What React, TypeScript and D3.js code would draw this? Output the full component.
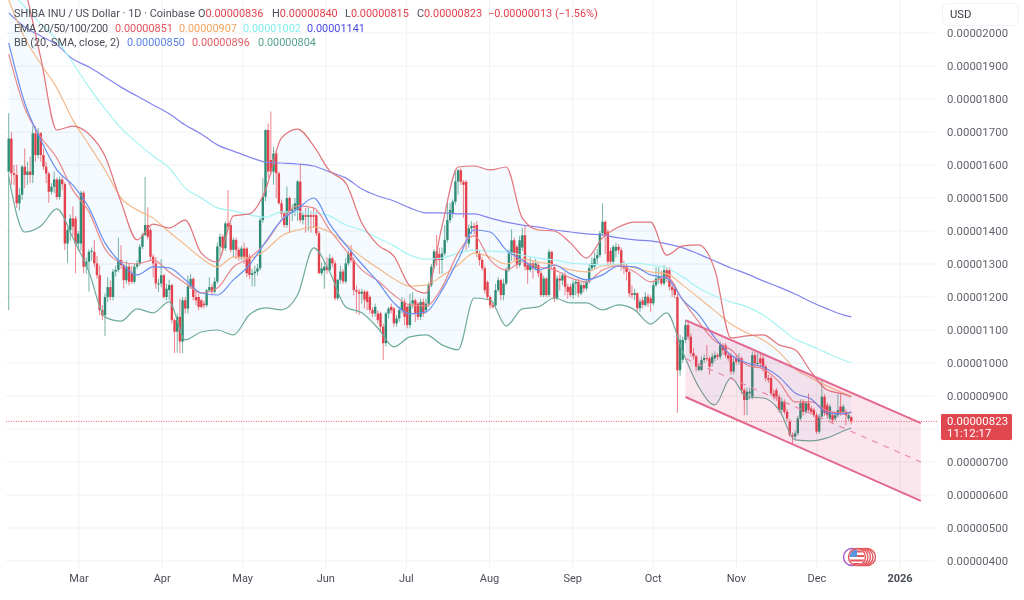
import * as d3 from "d3";

// Prices are in units of 0.00000001 USD
const opens = [
  1580,1680,1575,1570,1484,1510,1595,1570,1580,1570,1696,1630,1696,1630,1595,1574,1519,1534,1556,1503,
  1556,1542,1362,1403,1438,1438,1362,1362,1516,1292,1307,1337,1337,1302,1266,1160,1145,1200,1230,1200,
  1277,1282,1312,1297,1251,1292,1272,1246,1292,1302,1352,1388,1418,1403,1322,1302,1241,1241,1266,1200,
  1221,1236,1130,1095,1140,1065,1190,1165,1232,1255,1200,1200,1190,1180,1175,1220,1230,1216,1247,1353,
  1383,1348,1423,1418,1343,1373,1343,1322,1347,1347,1322,1267,1272,1277,1287,1433,1504,1706,1615,1580,
  1635,1575,1484,1453,1418,1500,1455,1465,1464,1550,1433,1448,1443,1448,1448,1448,1393,1272,1280,1292,
  1282,1317,1302,1196,1252,1277,1247,1302,1337,1312,1221,1216,1210,1216,1216,1200,1161,1150,1150,1150,
  1110,1060,1150,1170,1165,1120,1135,1160,1186,1170,1115,1180,1190,1180,1140,1185,1160,1180,1236,1292,
  1338,1330,1312,1332,1373,1433,1454,1489,1550,1584,1549,1549,1362,1408,1415,1418,1332,1312,1287,1245,
  1200,1175,1175,1221,1251,1206,1241,1282,1332,1372,1352,1297,1350,1387,1297,1282,1302,1287,1297,1272,
  1206,1256,1206,1337,1290,1196,1256,1250,1266,1231,1231,1206,1241,1246,1211,1236,1226,1246,1287,1292,
  1317,1327,1393,1428,1398,1340,1307,1340,1352,1342,1297,1292,1276,1211,1206,1211,1166,1190,1176,1201,
  1196,1181,1236,1256,1256,1241,1281,1281,1231,1226,1200,978,1010,1070,1115,1080,1030,1020,979,979,
  1009,1015,1014,999,1014,1024,1019,1054,1054,1024,1024,974,1014,1004,1014,918,888,908,898,1024,
  999,1014,1014,989,954,954,908,918,898,858,883,852,822,782,777,787,832,882,852,878,
  862,858,842,792,838,898,872,832,842,832,842,868,852,852,832,836,
];
const closes = [
  1680,1575,1570,1484,1510,1595,1570,1580,1570,1696,1630,1696,1630,1595,1574,1519,1534,1556,1503,1556,
  1542,1362,1403,1438,1413,1362,1392,1516,1292,1307,1337,1340,1302,1266,1160,1145,1200,1230,1200,1277,
  1282,1312,1297,1251,1292,1246,1246,1292,1302,1352,1388,1418,1383,1322,1302,1241,1241,1266,1200,1225,
  1236,1130,1095,1140,1065,1190,1165,1232,1255,1200,1190,1170,1170,1175,1220,1230,1216,1247,1353,1383,
  1348,1423,1413,1343,1373,1343,1322,1347,1322,1272,1267,1272,1277,1287,1433,1504,1706,1580,1580,1635,
  1575,1484,1453,1418,1500,1455,1465,1484,1550,1433,1448,1443,1448,1443,1443,1393,1272,1287,1292,1282,
  1317,1302,1196,1252,1277,1247,1302,1332,1312,1221,1216,1210,1216,1192,1185,1161,1150,1170,1130,1110,
  1060,1150,1165,1160,1120,1135,1160,1186,1140,1115,1180,1190,1150,1140,1185,1150,1180,1236,1292,1338,
  1312,1312,1332,1373,1433,1464,1489,1550,1584,1549,1540,1382,1408,1415,1410,1332,1312,1287,1221,1200,
  1175,1170,1221,1251,1206,1241,1282,1332,1372,1327,1297,1372,1387,1292,1282,1302,1287,1302,1272,1206,
  1256,1206,1337,1297,1196,1256,1250,1266,1231,1216,1206,1241,1246,1211,1236,1226,1246,1287,1302,1317,
  1327,1393,1428,1388,1307,1307,1352,1352,1342,1292,1287,1276,1211,1206,1212,1166,1186,1176,1201,1181,
  1181,1236,1256,1262,1241,1281,1256,1231,1221,1206,978,1070,1070,1115,1080,1030,1020,989,990,1009,
  1015,1014,989,1019,1024,1019,1054,1039,1024,1014,974,1004,1004,1015,918,888,913,913,1024,999,
  1000,999,989,954,949,908,898,898,858,883,852,832,782,777,787,832,878,852,878,858,
  852,842,792,838,898,848,842,868,827,842,857,852,868,842,842,823,
];
const highs = [
  1757,1700,1600,1600,1530,1600,1650,1610,1625,1718,1718,1712,1700,1650,1610,1580,1545,1580,1562,1565,
  1565,1548,1410,1450,1475,1445,1400,1522,1522,1320,1345,1350,1373,1325,1295,1175,1210,1260,1250,1285,
  1295,1380,1357,1300,1310,1300,1295,1300,1312,1360,1395,1564,1472,1410,1330,1320,1255,1315,1270,1240,
  1252,1240,1135,1150,1195,1200,1200,1265,1270,1260,1215,1210,1195,1190,1225,1260,1240,1260,1365,1393,
  1390,1430,1524,1425,1380,1380,1350,1355,1365,1352,1330,1285,1295,1300,1440,1560,1708,1726,1762,1655,
  1640,1580,1495,1460,1535,1505,1480,1500,1555,1605,1455,1470,1470,1460,1470,1460,1400,1305,1310,1320,
  1330,1322,1310,1255,1295,1285,1318,1340,1358,1320,1235,1225,1225,1222,1220,1205,1170,1180,1160,1155,
  1120,1155,1170,1180,1170,1145,1170,1200,1195,1175,1210,1215,1195,1185,1195,1195,1195,1245,1300,1345,
  1388,1348,1350,1418,1485,1485,1495,1580,1588,1590,1555,1555,1420,1430,1425,1430,1340,1320,1295,1250,
  1205,1185,1240,1260,1255,1255,1290,1345,1405,1380,1358,1385,1410,1415,1305,1320,1310,1315,1305,1280,
  1265,1260,1345,1340,1300,1265,1270,1275,1275,1240,1240,1250,1255,1255,1245,1245,1255,1300,1320,1335,
  1345,1400,1484,1432,1405,1350,1358,1365,1360,1350,1310,1300,1280,1235,1225,1215,1195,1200,1215,1210,
  1205,1245,1290,1290,1280,1297,1290,1290,1245,1240,1210,1085,1080,1130,1128,1090,1045,1025,1000,1020,
  1025,1055,1020,1030,1035,1030,1065,1060,1060,1030,1030,1015,1025,1030,1020,925,925,925,1035,1035,
  1030,1030,1025,995,965,960,920,925,905,895,890,860,830,790,795,840,890,890,885,908,
  870,865,850,845,948,905,880,875,850,850,905,905,875,860,850,840,
];
const lows = [
  1160,1540,1540,1470,1462,1495,1530,1540,1545,1545,1610,1620,1610,1585,1545,1485,1510,1515,1495,1495,
  1525,1342,1303,1370,1385,1272,1340,1340,1272,1270,1216,1310,1290,1255,1145,1130,1082,1185,1190,1190,
  1262,1275,1285,1226,1240,1235,1240,1240,1285,1295,1345,1385,1375,1310,1260,1225,1215,1230,1195,1190,
  1190,1120,1030,1032,1030,1030,1150,1150,1225,1190,1175,1160,1165,1165,1170,1215,1205,1210,1240,1325,
  1335,1340,1405,1335,1320,1315,1310,1312,1300,1260,1255,1232,1232,1265,1280,1425,1490,1560,1570,1540,
  1500,1480,1440,1410,1410,1395,1430,1445,1430,1425,1420,1395,1400,1395,1410,1385,1270,1265,1225,1270,
  1275,1290,1190,1190,1240,1240,1240,1295,1305,1205,1150,1145,1180,1165,1160,1150,1140,1140,1120,1095,
  1009,1050,1135,1150,1110,1110,1125,1150,1115,1105,1105,1165,1125,1130,1130,1140,1150,1170,1230,1285,
  1295,1270,1270,1325,1365,1425,1440,1480,1510,1540,1440,1340,1350,1390,1390,1320,1295,1280,1210,1190,
  1165,1165,1165,1215,1190,1190,1235,1275,1310,1310,1285,1290,1340,1280,1240,1275,1255,1280,1260,1200,
  1200,1200,1200,1285,1185,1190,1220,1235,1205,1195,1200,1195,1205,1200,1205,1215,1220,1240,1280,1285,
  1300,1320,1385,1330,1295,1300,1300,1320,1330,1280,1270,1250,1200,1195,1190,1155,1155,1165,1170,1170,
  1155,1175,1230,1240,1235,1235,1245,1220,1200,1195,849,960,1000,1060,1070,1020,1010,975,975,975,
  1000,1005,964,990,1005,1010,1010,1025,1015,1005,965,965,995,995,905,842,842,890,890,985,
  990,985,975,945,940,900,890,885,850,850,845,825,775,756,770,780,825,840,845,850,
  845,835,785,785,830,840,830,825,815,825,835,840,845,812,825,815,
];

const lineDays = [...d3.range(0, 316, 6), 315];
const bbUpper = [
  2282,2136,1924,1706,1718,1694,1627,1488,1373,1421,1409,1433,1333,1306,1446,1452,1524,1682,1709,1658,
  1582,1546,1424,1358,1324,1233,1212,1415,1594,1597,1585,1594,1439,1403,1400,1364,1318,1379,1412,1427,
  1427,1327,1355,1358,1282,1076,1082,1085,1055,1040,973,918,906,897,
];
const bbLower = [
  1564,1397,1415,1467,1379,1276,1139,1127,1164,1152,1185,1070,1094,1100,1085,1146,1167,1161,1206,1349,
  1276,1170,1152,1106,1049,1079,1085,1055,1040,1197,1191,1112,1164,1170,1197,1182,1182,1161,1176,1161,
  1118,1152,1033,927,873,955,897,894,858,767,764,773,794,803,
];
const bbBasis = [
  1970,1788,1676,1585,1539,1470,1364,1303,1267,1291,1288,1252,1212,1206,1252,1297,1367,1433,1467,1500,
  1421,1358,1300,1246,1182,1149,1155,1221,1312,1403,1397,1342,1312,1282,1297,1270,1252,1267,1294,1291,
  1267,1258,1191,1146,1076,1024,1000,988,958,909,891,849,846,852,
];
const ema20 = [
  1936,1773,1685,1621,1524,1458,1346,1306,1300,1312,1276,1242,1212,1227,1291,1318,1364,1433,1476,1470,
  1403,1342,1282,1249,1206,1176,1173,1230,1333,1385,1312,1282,1306,1291,1282,1258,1246,1282,1294,1276,
  1246,1261,1191,1124,1067,1040,994,982,943,882,882,855,849,849,
];
const ema50 = [
  2100,1985,1906,1833,1736,1661,1585,1500,1464,1439,1397,1358,1318,1291,1321,1318,1342,1385,1403,1412,
  1397,1361,1321,1288,1255,1233,1236,1264,1297,1333,1321,1300,1315,1306,1297,1282,1276,1294,1297,1288,
  1276,1270,1236,1197,1158,1118,1091,1070,1033,982,955,930,909,900,
];
const ema100 = [
  2136,2079,2027,1979,1909,1836,1770,1712,1667,1627,1591,1530,1500,1470,1461,1449,1442,1458,1458,1455,
  1446,1418,1403,1379,1355,1327,1315,1318,1333,1342,1339,1336,1327,1318,1312,1303,1300,1297,1300,1303,
  1297,1288,1261,1227,1203,1185,1170,1146,1109,1073,1052,1030,1009,1000,
];
const ema200 = [
  2061,2018,1991,1964,1921,1897,1867,1836,1809,1782,1755,1721,1694,1661,1642,1624,1609,1606,1603,1597,
  1579,1561,1527,1506,1491,1470,1455,1455,1452,1452,1439,1427,1418,1412,1403,1397,1391,1388,1379,1373,
  1370,1361,1349,1330,1309,1288,1270,1249,1230,1209,1185,1164,1146,1140,
];

// Parallel channel drawn on the chart
const channelDays = [253, 341];
const channelUpper = [1130, 818];
const channelLower = [897, 582];

const priceTicks = d3.range(400, 2001, 100);
const monthLabels = ["Mar", "Apr", "May", "Jun", "Jul", "Aug", "Sep", "Oct", "Nov", "Dec", "2026"];
const monthDates = monthLabels.map((_, i) => new Date(2025, 2 + i, 1));

const LAST_CLOSE = 823;
const UP = "#2f8c74";
const DOWN = "#e3414b";
const FONT = "Roboto, 'Liberation Sans', sans-serif";
const fmt = (p: number) => (p / 1e8).toFixed(8);

const x = d3.scaleLinear().domain([0, 315]).range([8.7, 851.3]);
const xTime = d3.scaleTime().domain([monthDates[0], monthDates[10]]).range([79, 900]);
const y = d3.scaleLinear().domain([400, 2000]).range([561, 33]);

const linePath = d3
  .line<number>()
  .x((_, i) => x(lineDays[i]))
  .y((d) => y(d))
  .curve(d3.curveMonotoneX);

const bandPath = d3
  .area<number>()
  .x((_, i) => x(lineDays[i]))
  .y0((_, i) => y(bbLower[i]))
  .y1((d) => y(d))
  .curve(d3.curveMonotoneX);

const channelMid = channelUpper.map((p, i) => (p + channelLower[i]) / 2);
const straight = d3
  .line<number>()
  .x((_, i) => x(channelDays[i]))
  .y((d) => y(d));
const channelFill = d3
  .area<number>()
  .x((_, i) => x(channelDays[i]))
  .y0((_, i) => y(channelLower[i]))
  .y1((d) => y(d));

function Legend() {
  const row = { fontFamily: FONT, fontSize: 10.9, fill: "#4a4d57" };
  const ohlc = [
    ["O", "0.00000836", 198],
    ["H", "0.00000840", 272],
    ["L", "0.00000815", 345],
    ["C", "0.00000823", 417],
  ] as const;
  const ema = [
    ["0.00000851", "#e2545c", 115],
    ["0.00000907", "#f2a35e", 179],
    ["0.00001002", "#86eeee", 243],
    ["0.00001141", "#4a4ae0", 307],
  ] as const;
  const bb = [
    ["0.00000850", "#5a82e8", 127],
    ["0.00000896", "#e06068", 192],
    ["0.00000804", "#58a090", 258],
  ] as const;
  return (
    <g {...row}>
      <text x={14} y={17}>SHIBA INU / US Dollar · 1D · Coinbase</text>
      {ohlc.map(([k, v, px]) => (
        <text key={k} x={px} y={17}>
          {k}
          <tspan fill={DOWN}>{v}</tspan>
        </text>
      ))}
      <text x={488} y={17} fill={DOWN}>−0.00000013 (−1.56%)</text>
      <text x={14} y={32} textLength={94}>EMA 20/50/100/200</text>
      {ema.map(([v, c, px]) => (
        <text key={c} x={px} y={32} fill={c}>{v}</text>
      ))}
      <text x={14} y={46}>BB (20, SMA, close, 2)</text>
      {bb.map(([v, c, px]) => (
        <text key={c} x={px} y={46} fill={c}>{v}</text>
      ))}
    </g>
  );
}

function FlagBadge() {
  const cx = 857;
  const cy = 557;
  return (
    <g>
      <circle cx={cx - 5} cy={cy} r={8.5} fill="white" stroke="#a855c8" strokeWidth={1.4} />
      {[10, 7.5, 5, 2.5].map((d) => (
        <circle key={d} cx={cx + d} cy={cy} r={8.5} fill="white" stroke="#e4555c" strokeWidth={1.4} />
      ))}
      <clipPath id="flag">
        <circle cx={cx} cy={cy} r={7.5} />
      </clipPath>
      <g clipPath="url(#flag)">
        <rect x={cx - 8} y={cy - 8} width={16} height={16} fill="white" />
        {[-6.5, -2, 2.5, 6].map((d) => (
          <rect key={d} x={cx - 8} y={cy + d} width={16} height={2} fill="#e4555c" />
        ))}
        <rect x={cx - 8} y={cy - 8} width={8} height={8} fill="#5b93e0" />
      </g>
      <circle cx={cx} cy={cy} r={8.5} fill="none" stroke="#e4555c" strokeWidth={1.4} />
    </g>
  );
}

export default function App() {
  return (
    <svg
      width={1024}
      height={600}
      style={{ position: "fixed", left: 0, top: 0, background: "white", filter: "blur(0.6px)" }}
    >
      {/* Grid */}
      {priceTicks.map((p) => (
        <line key={p} x1={6} x2={935} y1={y(p)} y2={y(p)} stroke="#f0f1f4" />
      ))}
      {monthDates.map((d, i) => (
        <line key={i} x1={xTime(d)} x2={xTime(d)} y1={0} y2={568} stroke="#f0f1f4" />
      ))}

      {/* Bollinger background */}
      <path d={bandPath(bbUpper) ?? ""} fill="#2196f3" fillOpacity={0.05} />

      {/* Candles */}
      {closes.map((c, i) => {
        const color = c >= opens[i] ? UP : DOWN;
        const top = Math.min(y(opens[i]), y(c));
        const h = Math.abs(y(opens[i]) - y(c));
        return (
          <g key={i}>
            <line x1={x(i)} x2={x(i)} y1={y(highs[i])} y2={y(lows[i])} stroke={color} strokeOpacity={0.65} />
            <rect x={x(i) - 1.2} y={top} width={2.4} height={Math.max(h, 1)} fill={color} />
          </g>
        );
      })}

      {/* Indicators */}
      <g fill="none" strokeWidth={1.2}>
        <path d={linePath(ema200) ?? ""} stroke="#8484ef" />
        <path d={linePath(ema100) ?? ""} stroke="#a6f3f3" />
        <path d={linePath(ema50) ?? ""} stroke="#f4ba8c" />
        <path d={linePath(ema20) ?? ""} stroke="#e98a90" />
        <path d={linePath(bbBasis) ?? ""} stroke="#6a8ff0" />
        <path d={linePath(bbUpper) ?? ""} stroke="#e2747b" />
        <path d={linePath(bbLower) ?? ""} stroke="#6fab9b" />
      </g>

      {/* Channel */}
      <path d={channelFill(channelUpper) ?? ""} fill="#d81b60" fillOpacity={0.11} />
      <path d={straight(channelUpper) ?? ""} stroke="#e2688f" strokeWidth={2} fill="none" />
      <path d={straight(channelLower) ?? ""} stroke="#e2688f" strokeWidth={2} fill="none" />
      <path d={straight(channelMid) ?? ""} stroke="#e88aa8" strokeWidth={1.2} strokeDasharray="6 6" fill="none" />

      {/* Last price */}
      <line x1={6} x2={938} y1={y(LAST_CLOSE)} y2={y(LAST_CLOSE)} stroke="#e8656d" strokeWidth={1} strokeDasharray="1 1.5" />

      <Legend />
      <FlagBadge />

      {/* Price axis; the 800 label sits under the last-price tag */}
      <rect x={942.5} y={3.5} width={76} height={22} rx={5} fill="white" stroke="#f1f2f5" />
      <text x={950} y={18} fontFamily={FONT} fontSize={11.3} fill="#3c3f48">USD</text>
      <g fontFamily={FONT} fontSize={11.3} fill="#5f626c" letterSpacing={0.1}>
        {priceTicks.filter((p) => p !== 800).map((p) => (
          <text key={p} x={947} y={y(p) + 4}>{fmt(p)}</text>
        ))}
      </g>
      <rect x={940.5} y={413.5} width={72} height={27} rx={2} fill="#e0474f" stroke="white" />
      <g fontFamily={FONT} fontSize={11.3} fill="white" letterSpacing={0.1}>
        <text x={947} y={425}>{fmt(LAST_CLOSE)}</text>
        <text x={947} y={437}>11:12:17</text>
      </g>

      {/* Time axis */}
      <g fontFamily={FONT} fontSize={11} textAnchor="middle" fill="#4a4d57">
        {monthLabels.map((m, i) => (
          <text key={m} x={xTime(monthDates[i])} y={582} fontWeight={m === "2026" ? 700 : 400}>{m}</text>
        ))}
      </g>
    </svg>
  );
}
